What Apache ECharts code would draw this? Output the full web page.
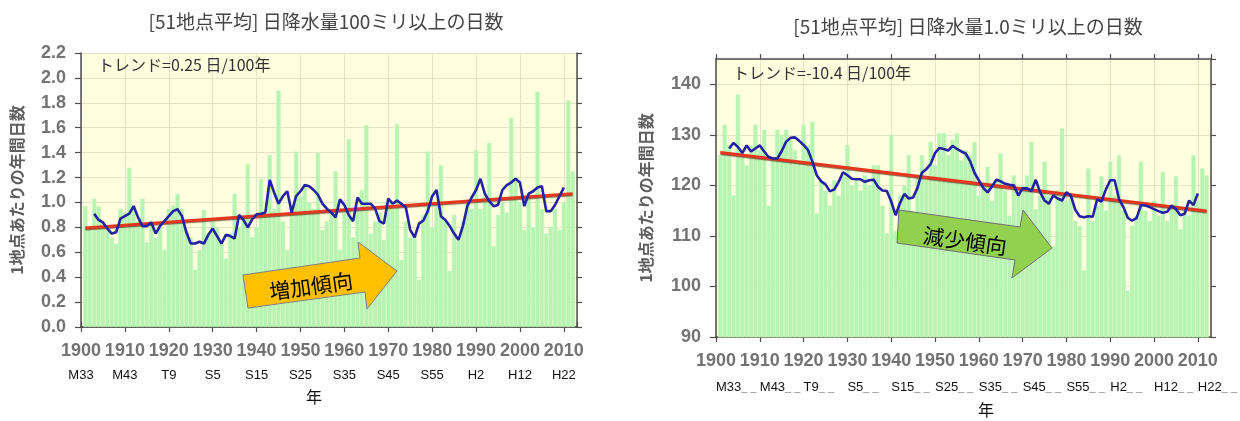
<!DOCTYPE html>
<html><head><meta charset="utf-8">
<script src="https://cdn.jsdelivr.net/npm/echarts@6/dist/echarts.min.js"></script>
<style>html,body{margin:0;padding:0;background:#fff}#c{width:1240px;height:421px}</style>
</head><body><div id="c"></div><script>
// ---------- data ----------
const barStartYear = 1901;
const maStartYear = 1903;
// left: days with daily precipitation >= 100 mm
const heavyDays = [
0.97,0.80,1.03,0.97,0.85,0.78,0.72,0.67,0.95,0.92,
1.28,0.98,0.85,1.03,0.68,0.85,0.72,0.80,0.62,0.95,
0.98,1.07,0.95,0.78,0.72,0.46,0.62,0.94,0.75,0.85,
0.80,0.68,0.55,0.75,1.07,0.80,0.90,1.31,0.72,0.80,
1.19,0.90,1.38,0.95,1.90,0.85,0.62,0.98,1.41,1.05,
1.15,1.00,0.95,1.40,0.78,0.85,0.92,1.25,0.62,0.95,
1.51,0.72,0.95,1.10,1.62,0.75,0.85,0.92,0.70,1.00,
0.95,1.63,0.54,0.85,0.72,0.75,0.38,0.90,1.41,0.80,
1.00,1.30,0.85,0.45,0.90,0.70,0.85,1.00,0.95,1.42,
0.95,1.05,1.48,0.65,0.90,1.00,0.92,1.68,1.20,1.00,
0.78,1.05,0.80,1.89,0.95,0.75,0.80,0.95,0.78,1.00,
1.82,1.25];
const heavyMA = [
0.91,0.86,0.84,0.79,0.75,0.76,0.87,0.89,0.91,0.97,
0.88,0.81,0.81,0.84,0.75,0.81,0.85,0.89,0.93,0.945,
0.89,0.76,0.67,0.67,0.685,0.67,0.74,0.79,0.73,0.67,
0.74,0.73,0.71,0.90,0.86,0.80,0.865,0.905,0.91,0.92,
1.18,1.08,0.99,1.05,1.09,0.92,1.05,1.09,1.14,1.13,
1.10,1.06,0.99,0.95,0.92,0.88,1.025,0.98,0.90,0.85,
1.04,0.99,0.99,0.99,0.95,0.85,0.83,1.03,0.99,1.015,
0.99,0.96,0.78,0.72,0.83,0.855,0.93,1.05,1.10,0.89,
0.86,0.81,0.75,0.70,0.81,0.97,1.04,1.10,1.19,1.07,
1.01,0.97,0.98,1.10,1.14,1.16,1.19,1.16,0.97,1.07,
1.09,1.12,1.13,0.93,0.93,0.98,1.05,1.12];
const heavyTrendYears = [1901, 2012];
const heavyTrendVals = [0.795, 1.07];

// right: days with daily precipitation >= 1.0 mm
const wetDays = [
126,132,128,118,138,126,124,128,132,127,
131,116,125,131,130,131,129,127,125,132,
128,132.6,114.5,121,119,116,121,118,122,128,
120,121,119,122,120,124,124,116,110.5,130,
111,118,120,126,113,122,126,121,128.6,124,
130.3,130.3,126,129,130.3,125,127,126,128.6,118,
120,123.7,117,121,126.3,119,114,122,118,120,
122,128.6,115.3,118,124.7,118,108,119,131.3,117,
118,113,112,103.2,123.4,113,116,121.8,115,124.7,
118,126,115,99.2,112,114,124.7,115,113,117,
114,122.7,113,116,121.8,111.3,115,114,126,117,
123.4,122];
const wetMA = [
127.3,128.4,127.6,126.4,127.9,126.7,127.3,127.9,126.7,125.6,
125.3,125.3,126.8,128.6,129.4,129.5,128.8,128.0,127.0,124.7,
122.0,120.8,120.2,118.8,119.2,120.7,122.6,122.0,121.3,121.2,
121.2,120.7,121.0,121.1,119.7,119.0,118.9,116.8,114.1,116.5,
118.3,117.4,117.6,119.5,122.5,123.2,124.2,126.4,127.4,127.2,
126.9,127.8,127.2,126.7,126.3,124.8,122.5,121.0,119.5,118.6,
119.8,121.1,120.8,120.3,120.1,120.0,118.0,119.4,119.4,118.9,
121.1,118.6,117.0,116.4,118.0,117.4,117.0,118.6,118.0,115.2,
113.9,113.7,113.9,113.8,117.2,116.8,119.2,121.0,121.0,117.3,
115.7,113.6,113.0,113.5,116.1,116.0,115.7,115.3,114.9,114.6,
114.8,116.0,115.3,114.1,114.4,117.0,116.1,118.4];
const wetTrendYears = [1901, 2012];
const wetTrendVals = [126.5, 114.95];

const eraLabels = ['M33','M43','T9','S5','S15','S25','S35','S45','S55','H2','H12','H22'];
const titles = ['[51地点平均] 日降水量100ミリ以上の日数', '[51地点平均] 日降水量1.0ミリ以上の日数'];
const trendTexts = ['トレンド=0.25 日/100年', 'トレンド=-10.4 日/100年'];
const yName = '1地点あたりの年間日数';
const arrowTexts = ['増加傾向', '減少傾向'];

// ---------- helpers ----------
const pairs = (start, arr) => arr.map((v, i) => [start + i, v]);
const zipPairs = (xs, ys) => xs.map((x, i) => [x, ys[i]]);
const numFont = '"Liberation Sans Narrow", "Arial Narrow", sans-serif';
const jpFont = '"Noto Sans CJK JP", sans-serif';
const axisColor = '#4d4d4d';
const gridLineColor = '#e3e3c6';
const numColor = '#737373';

function xAxes(gi, yearMargin, eraMargin, eraAlignLeft) {
  const base = {gridIndex: gi, type: 'value', min: 1900, max: 2013, interval: 10};
  return [
    Object.assign({}, base, {
      position: 'bottom',
      axisLine: {lineStyle: {color: axisColor, width: 1.5}},
      axisTick: {length: 5, lineStyle: {color: axisColor, width: 1.2}},
      axisLabel: {margin: yearMargin, fontFamily: numFont, fontWeight: 'bold', fontSize: 18,
                  color: numColor, showMaxLabel: false, formatter: v => String(v)},
      splitLine: {show: true, lineStyle: {color: gridLineColor, width: 1}}
    }),
    Object.assign({}, base, {
      position: 'top',
      axisLine: {lineStyle: {color: axisColor, width: 1.5}},
      axisTick: {length: 5, lineStyle: {color: axisColor, width: 1.2}},
      axisLabel: {show: false}, splitLine: {show: false}
    }),
    Object.assign({}, base, {
      position: 'bottom',
      axisLine: {show: false}, axisTick: {show: false}, splitLine: {show: false},
      axisLabel: {margin: eraMargin, showMaxLabel: false,
        align: eraAlignLeft ? 'left' : 'center',
        formatter: v => {
          const e = eraLabels[Math.round((v - 1900) / 10)] || '';
          return eraAlignLeft ? '{e|' + e + '}{g|_ _}' : '{e|' + e + '}';
        },
        rich: {
          e: {fontFamily: '"Liberation Sans", Arial, sans-serif', fontSize: 13, color: '#111'},
          g: {fontFamily: '"Liberation Sans", Arial, sans-serif', fontSize: 11, color: '#8a8a8a'}
        }}
    })
  ];
}
function yAxes(gi, min, max, interval, dec, nameGap) {
  return [
    {gridIndex: gi, type: 'value', min, max, interval, position: 'left',
     name: yName, nameLocation: 'middle', nameRotate: 90, nameGap,
     nameTextStyle: {fontFamily: jpFont, fontSize: 16, fontWeight: 'bold', color: '#5e5e5e'},
     axisLine: {show: true, lineStyle: {color: axisColor, width: 1.5}},
     axisTick: {show: true, length: 6, lineStyle: {color: axisColor, width: 1.2}},
     axisLabel: {margin: 15, fontFamily: numFont, fontWeight: 'bold', fontSize: 18, color: numColor,
                 showMaxLabel: dec > 0, formatter: v => v.toFixed(dec)},
     splitLine: {show: true, lineStyle: {color: gridLineColor, width: 1}}},
    {gridIndex: gi, type: 'value', min, max, interval, position: 'right',
     axisLine: {show: true, lineStyle: {color: axisColor, width: 1.5}},
     axisTick: {show: true, length: 5, lineStyle: {color: axisColor, width: 1.2}},
     axisLabel: {show: false}, splitLine: {show: false}}
  ];
}
function seriesFor(xi, yi, bars, ma, tr) {
  return [
    {type: 'bar', xAxisIndex: xi, yAxisIndex: yi, data: bars, barWidth: 4.4, z: 2,
     itemStyle: {color: '#b7f4b2', borderColor: '#c6f7c0', borderWidth: 0.6}, silent: true},
    {type: 'line', xAxisIndex: xi, yAxisIndex: yi, data: tr, showSymbol: false, symbol: 'none', z: 4,
     lineStyle: {color: '#e3371f', width: 3, shadowColor: 'rgba(90,40,20,0.7)', shadowBlur: 1, shadowOffsetY: 1}},
    {type: 'line', xAxisIndex: xi, yAxisIndex: yi, data: ma, showSymbol: false, symbol: 'none', z: 5,
     lineStyle: {color: '#2222a2', width: 2.6}}
  ];
}

const chart = echarts.init(document.getElementById('c'), null, {renderer: 'canvas'});
const txt = (x, y, text, size, color, align, extra) => Object.assign({
  type: 'text', x, y, z: 100,
  style: {text, fontFamily: jpFont, fontSize: size, fill: color, align: align || 'center', verticalAlign: 'middle'}
}, extra || {});

chart.setOption({
  animation: false,
  backgroundColor: '#ffffff',
  grid: [
    {left: 81, top: 53, width: 496, height: 274, show: true, backgroundColor: '#ffffe0', borderWidth: 0},
    {left: 716, top: 59, width: 502, height: 278, show: true, backgroundColor: '#ffffe0', borderWidth: 0}
  ],
  xAxis: [].concat(xAxes(0, 15, 42, false), xAxes(1, 15, 44, true)),
  yAxis: [].concat(yAxes(0, 0, 2.2, 0.2, 1, 56), yAxes(1, 90, 145, 10, 0, 62)),
  series: [].concat(
    seriesFor(0, 0, pairs(barStartYear, heavyDays), pairs(maStartYear, heavyMA), zipPairs(heavyTrendYears, heavyTrendVals)),
    seriesFor(3, 2, pairs(barStartYear, wetDays), pairs(maStartYear, wetMA), zipPairs(wetTrendYears, wetTrendVals))
  ),
  graphic: [
    txt(326, 22, titles[0], 19, '#444'),
    txt(968, 27, titles[1], 19, '#444'),
    txt(98, 65, trendTexts[0], 16, '#333', 'left'),
    txt(733, 73, trendTexts[1], 16, '#333', 'left'),
    txt(314, 397, '年', 16, '#111'),
    txt(986, 410, '年', 16, '#111'),
    {type: 'polygon', z: 90, shape: {points: [[243,275],[360,258],[358,242],[397,271],[367,309],[365,292],[248,308]]},
     style: {fill: '#FFC000', stroke: '#808080', lineWidth: 1}},
    txt(311, 286, arrowTexts[0], 21, '#000', 'center', {rotation: 0.14}),
    {type: 'polygon', z: 90, shape: {points: [[899,210],[1020,227],[1023,210],[1052,248],[1012,278],[1015,260],[897,243]]},
     style: {fill: '#92D050', stroke: '#6f6f6f', lineWidth: 1}},
    txt(965, 241, arrowTexts[1], 21, '#000', 'center', {rotation: -0.14})
  ]
});
</script></body></html>
